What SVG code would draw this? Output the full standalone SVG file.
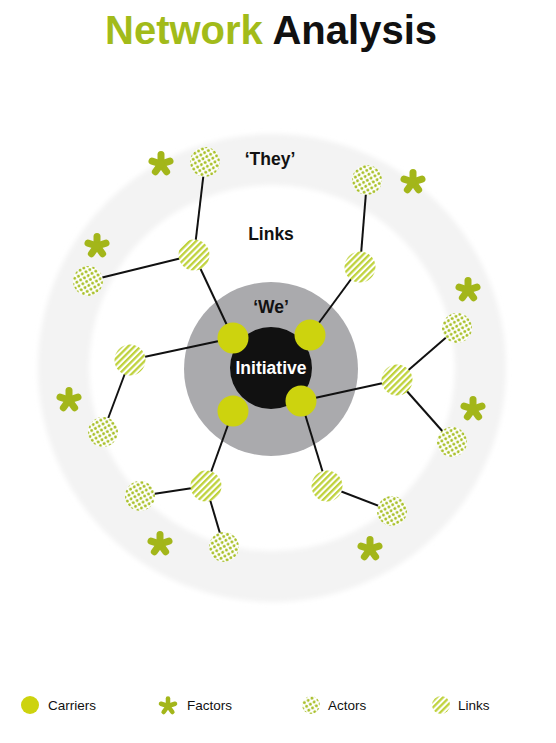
<svg xmlns="http://www.w3.org/2000/svg" width="556" height="743" viewBox="0 0 556 743">
<style>
.t{font-family:"Liberation Sans",Arial,Helvetica,sans-serif;font-weight:bold;}
.lbl{font-family:"Liberation Sans",Arial,Helvetica,sans-serif;font-size:17.5px;font-weight:bold;fill:#111;text-anchor:middle;}
.leg{font-family:"Liberation Sans",Arial,Helvetica,sans-serif;font-size:13.5px;fill:#111;}
.carrier{fill:#cdd30e;}
.actor{fill:url(#dots);}
.link{fill:url(#stripes);}
.factor{stroke:#a3b61a;stroke-width:7;stroke-linecap:round;fill:none;}
.conn line{stroke:#111;stroke-width:2;}
</style>
<defs>
<pattern id="dots" patternUnits="userSpaceOnUse" width="6.2" height="6.2" patternTransform="rotate(15)">
<rect width="6.2" height="6.2" fill="#fff"/>
<circle cx="1.55" cy="1.55" r="1.45" fill="#a9c02a"/>
<circle cx="4.65" cy="4.65" r="1.45" fill="#a9c02a"/>
</pattern>
<pattern id="stripes" patternUnits="userSpaceOnUse" width="4.4" height="4.4" patternTransform="rotate(-45)">
<rect width="4.4" height="4.4" fill="#fff"/>
<rect width="4.4" height="2.3" fill="#bfd23c"/>
</pattern>
<filter id="soft" x="-10%" y="-10%" width="120%" height="120%">
<feGaussianBlur stdDeviation="2.5"/>
</filter>
<g id="star">
<line x1="0" y1="0" x2="0" y2="-9.5"/>
<line x1="0" y1="0" x2="9" y2="-2.9"/>
<line x1="0" y1="0" x2="5.6" y2="7.7"/>
<line x1="0" y1="0" x2="-5.6" y2="7.7"/>
<line x1="0" y1="0" x2="-9" y2="-2.9"/>
</g>
</defs>
<rect width="556" height="743" fill="#fff"/>
<text class="t" x="105" y="44" font-size="40"><tspan fill="#a2bb1a">Network</tspan> <tspan fill="#111">Analysis</tspan></text>

<g id="ring-they">
<circle cx="272" cy="368" r="208.5" fill="none" stroke="#f3f3f3" stroke-width="51" filter="url(#soft)"/>
<text class="lbl" x="270" y="165">‘They’</text>
<text class="lbl" x="271" y="240">Links</text>
</g>
<g id="we">
<circle cx="271" cy="369" r="87" fill="#aaaaad"/>
<text class="lbl" x="271" y="313">‘We’</text>
</g>

<g class="conn" id="connectors">
<line x1="233" y1="338" x2="194" y2="255"/>
<line x1="194" y1="255" x2="205" y2="162"/>
<line x1="194" y1="255" x2="88" y2="281"/>
<line x1="233" y1="338" x2="130" y2="360"/>
<line x1="130" y1="360" x2="103" y2="432"/>
<line x1="310" y1="335" x2="360" y2="267"/>
<line x1="360" y1="267" x2="367" y2="180"/>
<line x1="301" y1="401" x2="397" y2="380"/>
<line x1="397" y1="380" x2="457" y2="328"/>
<line x1="397" y1="380" x2="452" y2="442"/>
<line x1="301" y1="401" x2="327" y2="486"/>
<line x1="327" y1="486" x2="392" y2="511"/>
<line x1="233" y1="411" x2="206" y2="486"/>
<line x1="206" y1="486" x2="140" y2="496"/>
<line x1="206" y1="486" x2="224" y2="547"/>
</g>

<g id="initiative">
<circle cx="271" cy="368" r="41" fill="#111"/>
<text class="lbl" x="271" y="374" style="fill:#fff">Initiative</text>
</g>

<g id="carrier-ul"><circle class="carrier" cx="233" cy="338" r="15.5"/></g>
<g id="carrier-ur"><circle class="carrier" cx="310" cy="335" r="15.5"/></g>
<g id="carrier-lr"><circle class="carrier" cx="301" cy="401" r="15.5"/></g>
<g id="carrier-ll"><circle class="carrier" cx="233" cy="411" r="15.5"/></g>

<g id="link-1"><circle class="link" cx="194" cy="255" r="15.5"/></g>
<g id="link-2"><circle class="link" cx="360" cy="267" r="15.5"/></g>
<g id="link-3"><circle class="link" cx="130" cy="360" r="15.5"/></g>
<g id="link-4"><circle class="link" cx="397" cy="380" r="15.5"/></g>
<g id="link-5"><circle class="link" cx="206" cy="486" r="15.5"/></g>
<g id="link-6"><circle class="link" cx="327" cy="486" r="15.5"/></g>

<g id="actor-1"><circle class="actor" cx="205" cy="162" r="15"/></g>
<g id="actor-2"><circle class="actor" cx="367" cy="180" r="15"/></g>
<g id="actor-3"><circle class="actor" cx="88" cy="281" r="15"/></g>
<g id="actor-4"><circle class="actor" cx="103" cy="432" r="15"/></g>
<g id="actor-5"><circle class="actor" cx="457" cy="328" r="15"/></g>
<g id="actor-6"><circle class="actor" cx="452" cy="442" r="15"/></g>
<g id="actor-7"><circle class="actor" cx="140" cy="496" r="15"/></g>
<g id="actor-8"><circle class="actor" cx="224" cy="547" r="15"/></g>
<g id="actor-9"><circle class="actor" cx="392" cy="511" r="15"/></g>

<g id="factor-1" class="factor"><use href="#star" x="161" y="164"/></g>
<g id="factor-2" class="factor"><use href="#star" x="413" y="182"/></g>
<g id="factor-3" class="factor"><use href="#star" x="97" y="246"/></g>
<g id="factor-4" class="factor"><use href="#star" x="69" y="400"/></g>
<g id="factor-5" class="factor"><use href="#star" x="468" y="290"/></g>
<g id="factor-6" class="factor"><use href="#star" x="473" y="409"/></g>
<g id="factor-7" class="factor"><use href="#star" x="160" y="544"/></g>
<g id="factor-8" class="factor"><use href="#star" x="370" y="549"/></g>

<g id="legend">
<circle class="carrier" cx="30" cy="705" r="9"/>
<text class="leg" x="48" y="710">Carriers</text>
<g class="factor" style="stroke-width:5.8"><use href="#star" transform="translate(168 706) scale(0.78)"/></g>
<text class="leg" x="187" y="710">Factors</text>
<circle class="actor" cx="311" cy="705" r="9"/>
<text class="leg" x="328" y="710">Actors</text>
<circle class="link" cx="441" cy="705" r="9"/>
<text class="leg" x="458" y="710">Links</text>
</g>
</svg>
